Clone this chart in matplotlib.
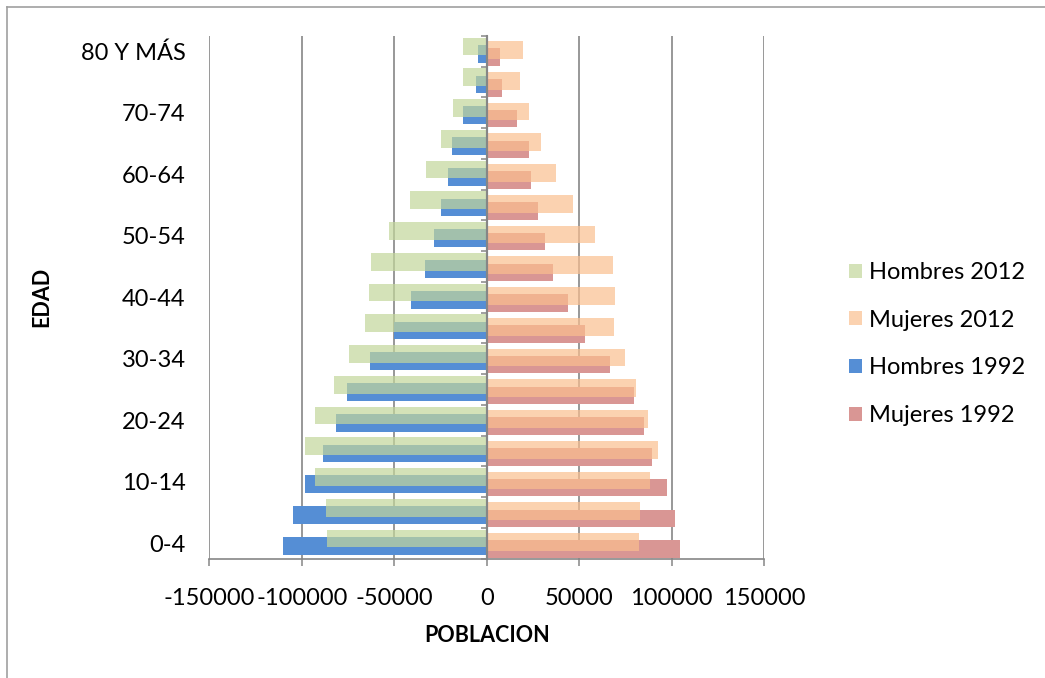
import numpy as np
import matplotlib
matplotlib.use("Agg")
import matplotlib.pyplot as plt
from matplotlib.lines import Line2D

# grupos de edad, de abajo hacia arriba
edades = ["0-4", "5-9", "10-14", "15-19", "20-24", "25-29", "30-34", "35-39",
          "40-44", "45-49", "50-54", "55-59", "60-64", "65-69", "70-74",
          "75-79", "80 Y MÁS"]

hombres_2012 = [86500, 86700, 92800, 98200, 92600, 82700, 74300, 65800,
                63600, 62500, 53000, 41400, 32800, 24700, 18200, 13000, 12650]
mujeres_2012 = [82300, 82800, 88400, 92500, 87300, 80500, 74800, 68800,
                69400, 68500, 58400, 46600, 37400, 29300, 22800, 18000, 19600]
hombres_1992 = [110100, 104500, 98400, 88500, 81600, 75700, 63100, 50100,
                40900, 33300, 28500, 24500, 20700, 18900, 12800, 5800, 4700]
mujeres_1992 = [104600, 101900, 97400, 89100, 84800, 79600, 66700, 53000,
                43700, 35900, 31500, 27700, 23900, 22800, 16500, 8100, 7200]

x_ticks = [-150000, -100000, -50000, 0, 50000, 100000, 150000]
x_labels = ["-150000", "-100000", "-50000", "0", "50000", "100000", "150000"]

plt.rcParams['font.family'] = ['Lato', 'DejaVu Sans']

gris = '#868686'
fig = plt.figure(figsize=(10.45, 6.78), dpi=100)
ax = fig.add_axes([0.2002, 0.176, 0.5311, 0.771])

y = np.arange(len(edades))
h = 0.575
b_m92 = ax.barh(y - 0.19, mujeres_1992, height=h, color='#d99694', zorder=2)
b_h92 = ax.barh(y - 0.08, -np.array(hombres_1992), height=h, color='#558ed5', zorder=2)
b_m12 = ax.barh(y + 0.045, mujeres_2012, height=h, color='#fabf8f', alpha=0.7, zorder=3)
b_h12 = ax.barh(y + 0.155, -np.array(hombres_2012), height=h, color='#c3d69b', alpha=0.7, zorder=3)

ax.set_xlim(-150000, 150000)
ax.set_ylim(-0.5, len(edades) - 0.5)
ax.set_xticks(x_ticks, x_labels)
ax.set_yticks(y[::2], edades[::2])
ax.tick_params(axis='y', length=0, pad=17, labelsize=17)
ax.tick_params(axis='x', length=5, width=1.1, color=gris, pad=16, labelsize=17)
ax.grid(axis='x', color=gris, lw=1.2)
ax.set_axisbelow(True)
for s in ['top', 'right', 'left']:
    ax.spines[s].set_visible(False)
ax.spines['bottom'].set_color(gris)
ax.spines['bottom'].set_linewidth(1.2)

# eje vertical en cero con marcas entre grupos
ax.axvline(0, color=gris, lw=1.5, zorder=4)
sec = ax.secondary_yaxis(0.5)
sec.set_alignment('left')
sec.set_yticks(np.arange(-0.5, len(edades), 1))
sec.set_yticklabels([])
sec.tick_params(length=4, width=1.1, color=gris)
sec.spines['left'].set_color(gris)
sec.spines['left'].set_linewidth(1.5)
sec.set_zorder(5)

ax.set_xlabel("POBLACION", fontsize=15.5, fontweight='bold')
ax.xaxis.set_label_coords(0.5, -0.127)
ax.set_ylabel("EDAD", fontsize=15.5, fontweight='bold')
ax.yaxis.set_label_coords(-0.282, 0.5)

ax.legend([b_h12, b_m12, b_h92, b_m92],
          ["Hombres 2012", "Mujeres 2012", "Hombres 1992", "Mujeres 1992"],
          loc='upper left', bbox_to_anchor=(849 / 1045, 1 - 262 / 678),
          bbox_transform=fig.transFigure, frameon=False, fontsize=17,
          handlelength=0.55, handleheight=0.55, handletextpad=0.3,
          labelspacing=1.13, borderpad=0, borderaxespad=0)

# borde del area del grafico
fig.add_artist(Line2D([7 / 1045, 7 / 1045], [0, 1 - 7 / 678], color='#a0a0a0', lw=1.2))
fig.add_artist(Line2D([7 / 1045, 1], [1 - 7 / 678, 1 - 7 / 678], color='#a0a0a0', lw=1.2))

fig.savefig("out.png", dpi=100)
